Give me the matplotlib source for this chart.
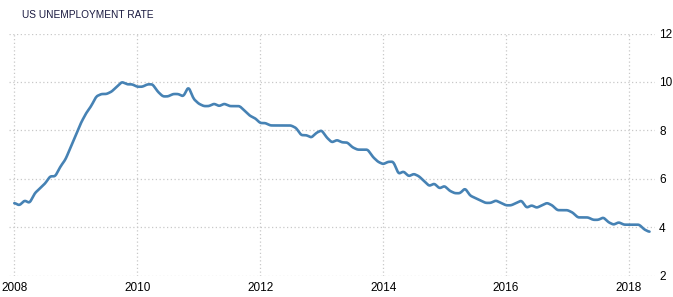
import numpy as np
import pandas as pd
import matplotlib
matplotlib.use("Agg")
import matplotlib.pyplot as plt

# monthly US unemployment rate, Jan 2008 - May 2018
rate = [5.0, 4.9, 5.1, 5.0, 5.4, 5.6, 5.8, 6.1, 6.1, 6.5, 6.8, 7.3,
        7.8, 8.3, 8.7, 9.0, 9.4, 9.5, 9.5, 9.6, 9.8, 10.0, 9.9, 9.9,
        9.8, 9.8, 9.9, 9.9, 9.6, 9.4, 9.4, 9.5, 9.5, 9.4, 9.8, 9.3,
        9.1, 9.0, 9.0, 9.1, 9.0, 9.1, 9.0, 9.0, 9.0, 8.8, 8.6, 8.5,
        8.3, 8.3, 8.2, 8.2, 8.2, 8.2, 8.2, 8.1, 7.8, 7.8, 7.7, 7.9,
        8.0, 7.7, 7.5, 7.6, 7.5, 7.5, 7.3, 7.2, 7.2, 7.2, 6.9, 6.7,
        6.6, 6.7, 6.7, 6.2, 6.3, 6.1, 6.2, 6.1, 5.9, 5.7, 5.8, 5.6,
        5.7, 5.5, 5.4, 5.4, 5.6, 5.3, 5.2, 5.1, 5.0, 5.0, 5.1, 5.0,
        4.9, 4.9, 5.0, 5.1, 4.8, 4.9, 4.8, 4.9, 5.0, 4.9, 4.7, 4.7,
        4.7, 4.6, 4.4, 4.4, 4.4, 4.3, 4.3, 4.4, 4.2, 4.1, 4.2, 4.1,
        4.1, 4.1, 4.1, 3.9, 3.8]
start_year = 2008
year_ticks = [2008, 2010, 2012, 2014, 2016, 2018]
rate_ticks = [2, 4, 6, 8, 10, 12]

months = np.arange(len(rate))
t = start_year + months / 12.0

# light smoothing of the line, like the original chart
tf = np.linspace(t[0], t[-1], len(rate) * 8)
yf = np.interp(tf, t, rate)
yf = pd.Series(yf).rolling(5, center=True, min_periods=1).mean().values

plt.rcParams['font.family'] = ['Liberation Sans', 'DejaVu Sans']

fig = plt.figure(figsize=(6.73, 2.97), dpi=100)
ax = fig.add_axes([9 / 673, (297 - 275.5) / 297, 646 / 673, 242 / 297])

ax.plot(tf, yf, color='#4682B4', lw=1.9, solid_capstyle='round')

ax.set_xlim(2008 - 5.3 / 61.5, 2008 + 641 / 61.5)
ax.set_ylim(2, 12)
ax.set_xticks(year_ticks)
ax.set_xticklabels([str(y) for y in year_ticks])
ax.set_yticks(rate_ticks)
ax.yaxis.tick_right()
ax.tick_params(axis='both', length=0, labelsize=8.5, colors='black')
ax.tick_params(axis='x', pad=5)
ax.tick_params(axis='y', pad=3)
for s in ax.spines.values():
    s.set_visible(False)
ax.grid(True, color='#c8c8c8', linestyle=(0, (1, 2)), lw=0.9)
ax.set_axisbelow(True)

fig.text(22 / 673, 1 - 15 / 297, 'US UNEMPLOYMENT RATE', fontsize=7.3,
         color='#1a1a40', va='center', ha='left')

fig.savefig('out.png', dpi=100)
